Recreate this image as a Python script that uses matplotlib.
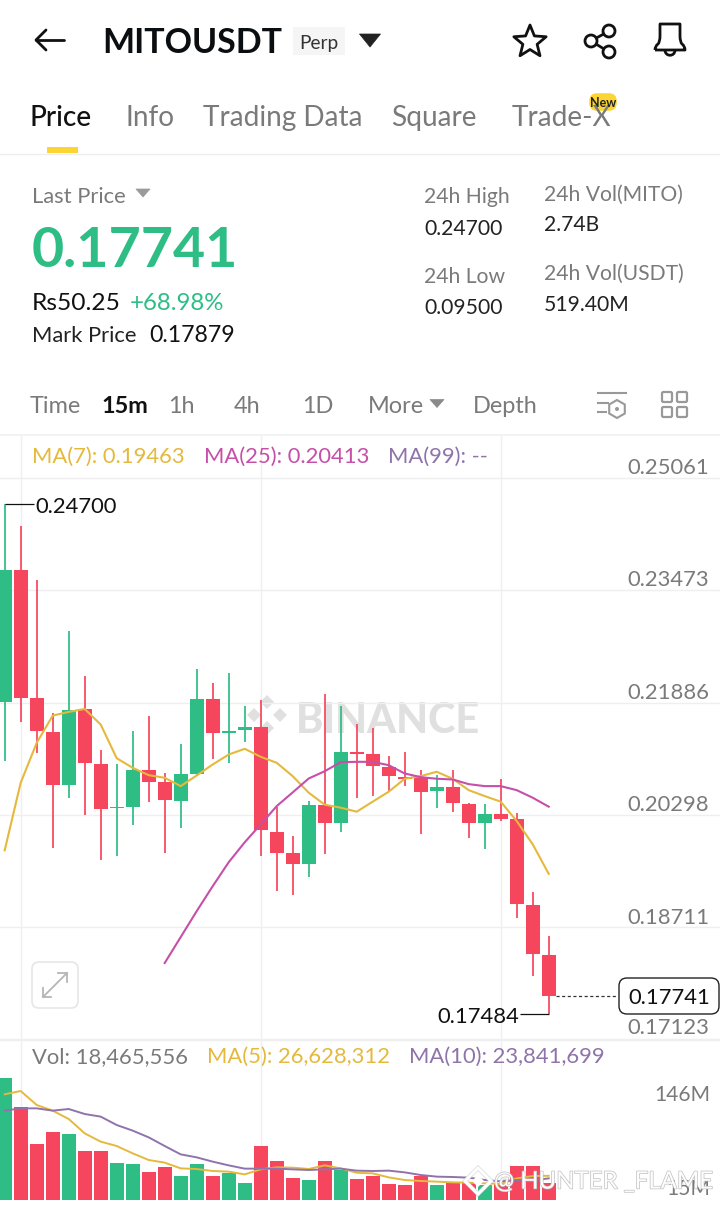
import matplotlib
matplotlib.use("Agg")
import matplotlib.pyplot as plt
import matplotlib.patheffects as pe
from matplotlib.patches import FancyBboxPatch, Circle, Polygon, Rectangle, PathPatch
from matplotlib.path import Path
import numpy as np

plt.rcParams['font.family'] = ['Lato', 'DejaVu Sans']

opens = [.21895,.23767,.21946,.21466,.20714,.21796,.21020,.20389,.20407,.20939,.20760,.20498,.20879,.21937,.21457,.21504,.21536,
         .20054,.19758,.19598,.20441,.20177,.21189,.21165,.20978,.20831,.20836,.20633,.20685,.20455,.20181,.20304,.20238,.19020,.18318]
closes = [.23762,.21951,.21480,.20714,.21786,.21028,.20375,.20410,.20939,.20760,.20502,.20879,.21932,.21462,.21490,.21536,.20078,
          .19758,.19598,.20441,.20177,.21184,.21165,.20986,.20841,.20808,.20625,.20685,.20460,.20177,.20304,.20244,.19030,.18328,.17741]
highs = [.24700,.24388,.23621,.21740,.22901,.22256,.21212,.21010,.21490,.21702,.20883,.21306,.22361,.22163,.22304,.21843,.21918,
         .20403,.19998,.20492,.22002,.21833,.21584,.21528,.21127,.21189,.20939,.20855,.20939,.20460,.20445,.20808,.20328,.19199,.18578]
lows = [.21057,.21607,.21175,.19834,.20540,.20290,.19655,.19716,.20149,.20478,.19764,.20111,.20845,.21090,.21034,.21330,.19716,
        .19213,.19165,.19415,.19749,.20060,.20530,.20563,.20619,.20704,.20032,.20399,.20342,.19975,.19810,.20210,.18832,.18022,.17484]
ma7 = [.19796,.20752,.21316,.21702,.21754,.21796,.21575,.21099,.20963,.20859,.20822,.20704,.20855,.21010,.21151,.21232,.21119,
       .21034,.20845,.20611,.20441,.20399,.20342,.20484,.20625,.20808,.20845,.20907,.20808,.20647,.20563,.20484,.20210,.19881,.19463]
ma25_start = 10
ma25 = [.18201,.18568,.18935,.19288,.19627,.19909,.20163,.20421,.20615,.20812,.20915,.21043,.21048,.21048,.21000,.20883,.20831,
        .20808,.20798,.20732,.20704,.20704,.20647,.20540,.20413]
volumes = [134.5,102.7,61.6,75.1,72.9,53.6,54.2,40.4,39.3,30.8,36,26.1,39.6,26.4,30,18.7,59.4,42.6,24.5,21.7,42.9,33,23.1,26.4,
           17.9,16.5,26.4,16.5,18.4,18.4,16.5,17.6,37.4,37.4,18.47]
vol_ma5 = [116.3,119.9,104.5,98.3,89.1,73.3,64.2,59.4,51.3,44,41.1,34.8,34.1,31.9,31.2,28.2,33.7,35.9,35.6,34.1,38.1,34.8,30,29.3,
           24.9,22,20.9,20.2,19.4,19.1,18.4,17.6,23.8,26.4,26.63]
vol_ma10 = [98.3,100.8,100.8,98.3,100.1,94.6,91.7,82.5,76.3,68.9,59.4,50.2,46.9,42.2,38.1,34.5,34.5,34.5,33.7,33,33.7,34.5,32.3,31.9,
            32.3,30.4,27.5,25.7,25.3,24.6,22,20.5,22,21.3,23.84]
price_ticks = [.25061,.23473,.21886,.20298,.18711,.17123]
tabs = ["Price", "Info", "Trading Data", "Square", "Trade-X"]
intervals = ["Time", "15m", "1h", "4h", "1D", "More", "Depth"]

GREEN, RED = '#2ebd85', '#f6465d'
YEL, MAG, PUR = '#e5b93c', '#c64fa9', '#8f74ab'
GRID, GRAY = '#efefef', '#7a7a7a'

W, H = 720, 1208
fig = plt.figure(figsize=(W/100, H/100), dpi=100, facecolor='white')

def pane(top, bottom, z):
    a = fig.add_axes([0, 1-bottom/H, 1, (bottom-top)/H], zorder=z)
    a.patch.set_alpha(0); a.axis('off')
    return a

ui = pane(0, H, 0); ui.set_xlim(0, W); ui.set_ylim(H, 0)
top = pane(0, H, 5); top.set_xlim(0, W); top.set_ylim(H, 0)

def T(x, y, s, size, color='black', ha='left', weight='normal', ax=top, **kw):
    return ax.text(x, y+0.085*size, s, fontsize=size*0.72, color=color, ha=ha, va='center', fontweight=weight, **kw)

def tri(x, y, w, h, color, ax=top):
    ax.add_patch(Polygon([(x-w/2, y-h/2), (x+w/2, y-h/2), (x, y+h/2)], closed=True, fc=color, ec=color, lw=0.5, joinstyle='round'))

# ---- header
top.plot([36, 64], [40, 40], color='#111', lw=2.0, solid_capstyle='round')
top.plot([46, 36, 46], [30, 40, 50], color='#111', lw=2.0, solid_capstyle='round', solid_joinstyle='round')
T(102, 40, "MITOUSDT", 34, '#0b0e11', weight='bold')
top.add_patch(Rectangle((293, 27), 52, 28, fc='#f5f5f5', ec='none'))
T(319, 42, "Perp", 19, '#333333', ha='center')
tri(370, 40.5, 21, 13, '#222222')
# star
ang = np.deg2rad(np.arange(0, 360, 36) - 90)
rad = np.where(np.arange(10) % 2 == 0, 17, 7.5)
top.add_patch(Polygon(np.c_[530+rad*np.cos(ang), 42+rad*np.sin(ang)], closed=True, fc='none', ec='#111', lw=2.0, joinstyle='round'))
# share
for cx, cy in [(609, 31), (591, 41), (609, 52)]:
    top.add_patch(Circle((cx, cy), 6, fc='white', ec='#111', lw=2.0, zorder=3))
top.plot([609, 591, 609], [31, 41, 52], color='#111', lw=2.0, zorder=2)
# bell
bell = Path([(655, 50), (655, 46), (658, 44), (660, 42), (660, 36), (660, 30), (660, 24), (670, 24), (680, 24), (680, 30),
             (680, 36), (680, 42), (682, 44), (685, 46), (685, 50), (655, 50)],
            [1, 3, 3, 3, 3, 3, 3, 3, 3, 3, 3, 3, 3, 3, 3, 2])
top.add_patch(PathPatch(bell, fc='none', ec='#111', lw=2.0, joinstyle='round'))
top.add_patch(PathPatch(Path([(665, 50), (665, 57), (675, 57), (675, 50)], [1, 4, 4, 4]), fc='none', ec='#111', lw=2.0))

for x, s in zip([30, 125, 203, 391, 512], tabs):
    T(x, 116, s, 28, '#111111' if s == "Price" else GRAY, weight='medium' if s == "Price" else 'normal')
top.add_patch(Rectangle((47, 147), 31, 6, fc='#fcd535', ec='none'))
top.plot([0, W], [153.5, 153.5], color='#eeeeee', lw=1)
top.add_patch(FancyBboxPatch((592, 96), 22, 12, boxstyle="round,pad=0,rounding_size=5", fc='#fcd535', ec='#fcd535', lw=4))
T(603, 102, "New", 12.5, '#1e2329', ha='center', weight='bold')

# ---- ticker block
T(32, 195, "Last Price", 22, GRAY)
tri(143, 193, 14, 8, '#9a9a9a')
T(32, 246, "0.17741", 55.5, GREEN, weight='bold')
T(32, 301, "Rs50.25", 24.5, '#111')
T(130, 301, "+68.98%", 24, GREEN)
T(32, 334, "Mark Price", 22, '#222')
T(149, 334, "0.17879", 23, '#111')
for x, y, s, c in [(424, 195, "24h High", GRAY), (424, 227, "0.24700", '#222'), (424, 275, "24h Low", GRAY), (424, 306, "0.09500", '#222'),
                   (544, 193, "24h Vol(MITO)", GRAY), (544, 223, "2.74B", '#222'), (544, 272, "24h Vol(USDT)", GRAY), (544, 303, "519.40M", '#222')]:
    T(x, y, s, 21.2, c)

# ---- interval bar
for x, s in zip([30, 101, 168, 234, 302, 368, 473], intervals):
    T(x, 405, s, 23.5, '#111' if s == "15m" else GRAY, weight='bold' if s == "15m" else 'normal')
tri(437, 403.5, 14, 8, '#8a8a8a')
top.plot([598, 626], [393, 393], color='#999', lw=1.5)
top.plot([598, 608], [403, 403], color='#999', lw=1.5)
top.plot([598, 606], [412, 412], color='#999', lw=1.5)
hx = 617+9*np.sin(np.deg2rad(np.arange(0, 360, 60))); hy = 409-9*np.cos(np.deg2rad(np.arange(0, 360, 60)))
top.add_patch(Polygon(np.c_[hx, hy], closed=True, fc='none', ec='#999', lw=1.5))
top.add_patch(Circle((617, 409), 2, fc='#999', ec='none'))
for x, y in [(662, 392), (677, 392), (662, 407), (677, 407)]:
    top.add_patch(FancyBboxPatch((x, y), 10, 10, boxstyle="round,pad=0,rounding_size=1.5", fc='none', ec='#999', lw=1.6))
top.plot([0, W], [435, 435], color='#f0f0f0', lw=1.2)

# ---- watermark (under the candles)
T(388, 717, "BINANCE", 41.5, '#e0e0e0', ha='center', weight='black', ax=ui)
for dx, dy in [(-13, 0), (13, 0), (0, -13), (0, 13)]:
    ui.add_patch(Polygon([(267+dx, 715+dy-7), (267+dx+7, 715+dy), (267+dx, 715+dy+7), (267+dx-7, 715+dy)], closed=True, fc='#e0e0e0', ec='none'))

# ---- price pane
idx = np.arange(len(opens))
xlim = (-4.7/16, (W-4.7)/16)
pa = pane(478.2, 1039.2, 2)
pa.set_xlim(*xlim); pa.set_ylim(price_ticks[-1], price_ticks[0])
px2i = lambda p: (p-4.7)/16
colors = [GREEN if c >= o else RED for o, c in zip(opens, closes)]
for t in price_ticks:
    pa.axhline(t, color=GRID, lw=1, zorder=0, clip_on=False)
pa.vlines(idx[[1, 16, 31]], price_ticks[-1], price_ticks[0]+0.0061, color=GRID, lw=1, zorder=0, clip_on=False)
pa.vlines(idx, lows, highs, colors=colors, lw=1.25, zorder=2)
bot = np.minimum(opens, closes)
hgt = np.maximum(np.abs(np.array(closes)-np.array(opens)), 0.0002)
pa.bar(idx, hgt, bottom=bot, width=0.86, color=colors, lw=0, zorder=3)
pa.plot(idx, ma7, color=YEL, lw=1.5, zorder=4, solid_joinstyle='round')
pa.plot(idx[ma25_start:], ma25, color=MAG, lw=1.5, zorder=4, solid_joinstyle='round')
pa.hlines(highs[0], idx[0], px2i(34), color='#111', lw=0.9)
pa.hlines(lows[-1], px2i(520), idx[-1], color='#111', lw=0.9)
T(35, 505, f"{highs[0]:.5f}", 22, '#111')
T(519, 1015, f"{lows[-1]:.5f}", 22, '#111', ha='right')
pa.hlines(closes[-1], px2i(556), px2i(618), color='#333', lw=0.9, linestyle=(0, (2.5, 2)))

for t, y in zip(price_ticks, [466, 578, 691, 803, 916, 1026]):
    T(709.5, y, f"{t:.5f}", 22, GRAY, ha='right')
T(32, 455, "MA(7): 0.19463", 22, YEL)
T(204, 455, "MA(25): 0.20413", 22, MAG)
T(388, 455, "MA(99): --", 22, PUR)
top.add_patch(FancyBboxPatch((619, 978), 100, 36, boxstyle="round,pad=0,rounding_size=8", fc='white', ec='#222', lw=1))
T(669, 996, f"{closes[-1]:.5f}", 22, '#111', ha='center')
top.add_patch(FancyBboxPatch((32, 962), 46, 46, boxstyle="round,pad=0,rounding_size=7", fc='white', ec='#e6e6e6', lw=1.2))
top.plot([43, 67], [997, 973], color='#b5b5b5', lw=1.3)
top.plot([43, 43, 51], [988, 997, 997], color='#b5b5b5', lw=1.3)
top.plot([58, 67, 67], [973, 973, 982], color='#b5b5b5', lw=1.3)

# ---- volume pane
va = pane(1040, 1200, 2)
va.set_xlim(*xlim); va.set_ylim(0, 176)
va.vlines(idx[[1, 16, 31]], 0, 176, color=GRID, lw=1, zorder=0)
va.bar(idx, volumes, width=0.86, color=colors, lw=0, zorder=2)
va.plot(idx, vol_ma5, color=YEL, lw=1.4, zorder=3)
va.plot(idx, vol_ma10, color=PUR, lw=1.4, zorder=3)
T(32, 1055, "Vol: 18,465,556", 22, GRAY)
T(207, 1055, "MA(5): 26,628,312", 22, YEL)
T(409, 1055, "MA(10): 23,841,699", 22, PUR)
T(710, 1093, "146M", 21, GRAY, ha='right')
T(710, 1187, "15M", 21, GRAY, ha='right')
top.plot([0, W], [1039.5, 1039.5], color=GRID, lw=1)

# ---- overlay watermark
wm = [pe.withStroke(linewidth=1.0, foreground='#bdbdbd')]
t = T(494, 1180, "@ HUNTER _FLAME", 24, 'white', alpha=0.95)
t.set_path_effects(wm)
top.add_patch(Polygon([(478, 1168), (491, 1181), (478, 1194), (465, 1181)], closed=True, fc='none', ec='white', lw=2.2,
                      path_effects=[pe.withStroke(linewidth=3, foreground='#cfcfcf')]))
top.add_patch(Polygon([(478, 1175), (484, 1181), (478, 1187), (472, 1181)], closed=True, fc='white', ec='none'))

fig.savefig("out.png", dpi=100)
